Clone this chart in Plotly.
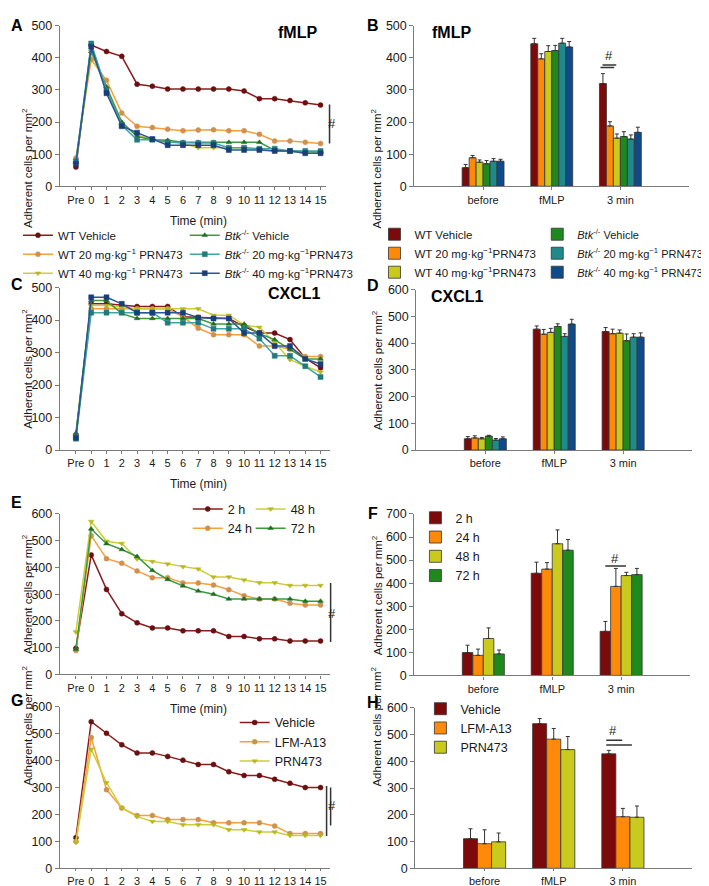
import plotly.graph_objects as go

# -----------------------------------------------------------
# Datos
# -----------------------------------------------------------

tiempos = list(range(-1, 16))
etiquetas_tiempo = ["Pre"] + [str(t) for t in range(16)]
categorias = [0, 1, 2]
etiquetas_cat = ["before", "fMLP", "3 min"]

nombres_lineas = ["WT Vehicle", "WT 20 mg·kg<sup>−1</sup> PRN473", "WT 40 mg·kg<sup>−1</sup> PRN473",
                  "<i>Btk</i><sup>-/-</sup> Vehicle", "<i>Btk</i><sup>-/-</sup> 20 mg·kg<sup>−1</sup>PRN473",
                  "<i>Btk</i><sup>-/-</sup> 40 mg·kg<sup>−1</sup>PRN473"]
nombres_barras = ["WT Vehicle", "WT 20 mg·kg<sup>−1</sup>PRN473", "WT 40 mg·kg<sup>−1</sup>PRN473",
                  "<i>Btk</i><sup>-/-</sup> Vehicle", "<i>Btk</i><sup>-/-</sup> 20 mg·kg<sup>−1</sup> PRN473",
                  "<i>Btk</i><sup>-/-</sup> 40 mg·kg<sup>−1</sup> PRN473"]
nombres_horas = ["2 h", "24 h", "48 h", "72 h"]
nombres_inhib = ["Vehicle", "LFM-A13", "PRN473"]

# A) fMLP, curso temporal
a_wt_veh = [60, 440, 420, 405, 318, 312, 303, 303, 303, 303, 303, 297, 273, 273, 267, 260, 253]
a_wt_20 = [88, 395, 330, 228, 187, 183, 178, 173, 175, 176, 173, 173, 162, 141, 141, 137, 133]
a_wt_40 = [70, 420, 305, 195, 160, 145, 140, 133, 120, 120, 120, 120, 115, 110, 108, 103, 103]
a_btk_veh = [75, 420, 310, 200, 155, 145, 143, 137, 137, 137, 137, 137, 137, 112, 110, 107, 107]
a_btk_20 = [78, 445, 300, 190, 145, 145, 137, 135, 135, 135, 120, 120, 117, 117, 110, 110, 110]
a_btk_40 = [70, 435, 290, 187, 167, 147, 128, 128, 128, 128, 113, 113, 113, 110, 110, 103, 103]

# B) fMLP, barras (before, fMLP, 3 min) + error
b_wt_veh = [58, 444, 320]
b_wt_veh_err = [10, 17, 31]
b_wt_20 = [89, 397, 188]
b_wt_20_err = [7, 16, 13]
b_wt_40 = [75, 420, 150]
b_wt_40_err = [7, 18, 13]
b_btk_veh = [70, 423, 155]
b_btk_veh_err = [10, 16, 15]
b_btk_20 = [78, 446, 147]
b_btk_20_err = [8, 15, 13]
b_btk_40 = [78, 434, 168]
b_btk_40_err = [6, 17, 16]

# C) CXCL1, curso temporal
c_wt_veh = [45, 450, 450, 445, 442, 442, 442, 410, 408, 405, 405, 380, 360, 360, 340, 283, 253]
c_wt_20 = [40, 435, 435, 435, 435, 435, 435, 410, 375, 355, 355, 355, 320, 320, 310, 288, 288]
c_wt_40 = [45, 445, 445, 440, 435, 435, 435, 435, 435, 415, 415, 385, 378, 330, 278, 258, 240]
c_btk_veh = [52, 460, 460, 420, 405, 405, 405, 405, 405, 388, 388, 388, 358, 340, 310, 280, 280]
c_btk_20 = [35, 423, 423, 423, 423, 423, 392, 392, 392, 373, 373, 373, 343, 290, 290, 258, 225]
c_btk_40 = [38, 470, 470, 450, 423, 423, 423, 423, 408, 405, 405, 360, 360, 320, 320, 280, 265]

# D) CXCL1, barras
d_wt_veh = [42, 452, 443]
d_wt_veh_err = [8, 12, 15]
d_wt_20 = [45, 433, 435]
d_wt_20_err = [8, 18, 17]
d_wt_40 = [42, 440, 437]
d_wt_40_err = [5, 15, 12]
d_btk_veh = [52, 462, 409]
d_btk_veh_err = [3, 10, 25]
d_btk_20 = [37, 425, 422]
d_btk_20_err = [6, 10, 13]
d_btk_40 = [42, 471, 422]
d_btk_40_err = [7, 18, 16]

# E) horas, curso temporal
e_2h = [98, 447, 318, 227, 193, 174, 174, 163, 163, 163, 142, 142, 133, 133, 125, 125, 125]
e_24h = [89, 519, 433, 416, 387, 362, 362, 342, 342, 334, 317, 294, 282, 282, 266, 260, 260]
e_48h = [159, 572, 498, 490, 432, 422, 413, 403, 394, 364, 364, 353, 343, 343, 333, 333, 333]
e_72h = [94, 544, 489, 467, 441, 389, 355, 331, 312, 300, 282, 282, 282, 282, 282, 274, 274]

# F) horas, barras
f_2h = [99, 443, 191]
f_2h_err = [32, 48, 43]
f_24h = [87, 461, 386]
f_24h_err = [27, 28, 78]
f_48h = [160, 571, 433]
f_48h_err = [46, 60, 14]
f_72h = [93, 543, 437]
f_72h_err = [17, 46, 27]

# G) inhibidores, curso temporal
g_veh = [114, 545, 502, 459, 429, 429, 416, 402, 386, 386, 359, 345, 345, 331, 316, 300, 300]
g_lfm = [100, 486, 292, 224, 196, 196, 181, 181, 181, 169, 169, 169, 169, 157, 129, 129, 129]
g_prn = [96, 443, 318, 224, 192, 174, 174, 162, 162, 162, 143, 143, 135, 135, 122, 122, 122]

# H) inhibidores, barras
h_veh = [111, 541, 428]
h_veh_err = [37, 19, 13]
h_lfm = [92, 483, 193]
h_lfm_err = [52, 40, 31]
h_prn = [99, 444, 191]
h_prn_err = [33, 49, 42]

# -----------------------------------------------------------
# Estilos
# -----------------------------------------------------------

W, H = 709, 886
FUENTE = "Liberation Sans, Arial, sans-serif"
GRIS = "#7a7a7a"
TEXTO = "#1a1a1a"

col_barras = ["#7d0a0a", "#ff8a0a", "#c9c91e", "#1e8a1e", "#1f8a8a", "#0f4a8a"]
col_lineas = ["#8b1c1c", "#f5a03c", "#cdcd3c", "#3d9a3d", "#3fa5a5", "#2a5698"]
col_marcas = ["#6a1010", "#d09050", "#b8b820", "#236b23", "#237a7a", "#1a3f78"]
simbolos = ["circle", "circle", "triangle-down", "triangle-up", "square", "square"]

# paneles: (x izq, x der, y arriba, y abajo) en pixeles
paneles = {
    1: (52, 318, 11, 174),
    2: (407, 682, 11, 174),
    3: (52, 322, 277, 442),
    4: (409, 685, 279, 442),
    5: (52, 322, 507, 670),
    6: (407, 683, 507, 671),
    7: (52, 322, 703, 867),
    8: (408, 685, 704, 867),
}
rangos_y = {1: 500, 2: 500, 3: 500, 4: 600, 5: 600, 6: 700, 7: 600, 8: 600}

fig = go.Figure()


def sufijo(n):
    return "" if n == 1 else str(n)


def lineas(n, series, nombres, estilos, leyendas):
    """Agrega las curvas temporales al panel n"""
    for serie, nombre, i, ley in zip(series, nombres, estilos, leyendas):
        fig.add_trace(go.Scatter(
            x=tiempos, y=serie, name=nombre, mode="lines+markers",
            line=dict(color=col_lineas[i], width=1.5),
            marker=dict(symbol=simbolos[i], size=5, color=col_marcas[i],
                        line=dict(color=col_marcas[i], width=0.5)),
            xaxis="x" + sufijo(n), yaxis="y" + sufijo(n),
            showlegend=ley is not None, legend=ley or "legend",
        ))


def barras(n, series, errores, nombres, estilos, leyendas):
    """Agrega barras agrupadas con error (solo hacia arriba) al panel n"""
    for serie, err, nombre, i, ley in zip(series, errores, nombres, estilos, leyendas):
        fig.add_trace(go.Bar(
            x=categorias, y=serie, name=nombre,
            marker=dict(color=col_barras[i], line=dict(color="#333333", width=0.8)),
            error_y=dict(type="data", array=err, arrayminus=[0] * len(err), symmetric=False,
                         color="#333333", thickness=1, width=2),
            xaxis="x" + sufijo(n), yaxis="y" + sufijo(n),
            showlegend=ley is not None, legend=ley or "legend",
        ))


# A y C
lineas(1, [a_wt_veh, a_wt_20, a_wt_40, a_btk_veh, a_btk_20, a_btk_40], nombres_lineas,
       range(6), ["legend", "legend", "legend", "legend2", "legend2", "legend2"])
lineas(3, [c_wt_veh, c_wt_20, c_wt_40, c_btk_veh, c_btk_20, c_btk_40], nombres_lineas,
       range(6), [None] * 6)

# B y D
barras(2, [b_wt_veh, b_wt_20, b_wt_40, b_btk_veh, b_btk_20, b_btk_40],
       [b_wt_veh_err, b_wt_20_err, b_wt_40_err, b_btk_veh_err, b_btk_20_err, b_btk_40_err],
       nombres_barras, range(6), ["legend3", "legend3", "legend3", "legend4", "legend4", "legend4"])
barras(4, [d_wt_veh, d_wt_20, d_wt_40, d_btk_veh, d_btk_20, d_btk_40],
       [d_wt_veh_err, d_wt_20_err, d_wt_40_err, d_btk_veh_err, d_btk_20_err, d_btk_40_err],
       nombres_barras, range(6), [None] * 6)

# E y F
lineas(5, [e_2h, e_24h, e_48h, e_72h], nombres_horas, [0, 1, 2, 3],
       ["legend5", "legend5", "legend6", "legend6"])
barras(6, [f_2h, f_24h, f_48h, f_72h], [f_2h_err, f_24h_err, f_48h_err, f_72h_err],
       nombres_horas, [0, 1, 2, 3], ["legend7"] * 4)

# G y H
lineas(7, [g_veh, g_lfm, g_prn], nombres_inhib, [0, 1, 2], ["legend8"] * 3)
barras(8, [h_veh, h_lfm, h_prn], [h_veh_err, h_lfm_err, h_prn_err],
       nombres_inhib, [0, 1, 2], ["legend9"] * 3)

# -----------------------------------------------------------
# Ejes
# -----------------------------------------------------------

layout = {}
for n, (x0, x1, y0, y1) in paneles.items():
    es_linea = n % 2 == 1
    if es_linea:
        xr = [-1 - 16 / 15.3, 15 + (x1 - 313) / 15.3]
        xt = dict(tickvals=tiempos, ticktext=etiquetas_tiempo, tickfont=dict(size=11, color=TEXTO))
    else:
        xr = [-1, 3]
        xt = dict(tickvals=categorias, ticktext=etiquetas_cat, tickfont=dict(size=11, color=TEXTO))
    layout["xaxis" + sufijo(n)] = dict(
        domain=[x0 / W, x1 / W], range=xr, anchor="y" + sufijo(n),
        showline=True, linecolor=GRIS, linewidth=1.3, ticks="outside",
        ticklen=2 if n >= 7 else 3,
        tickcolor=GRIS, showgrid=False, zeroline=False, fixedrange=True, **xt)
    layout["yaxis" + sufijo(n)] = dict(
        domain=[1 - y1 / H, 1 - y0 / H], range=[0, rangos_y[n]], dtick=100,
        anchor="x" + sufijo(n), showline=True, linecolor=GRIS, linewidth=1.3,
        ticks="outside", ticklen=4, tickcolor=GRIS, showgrid=False, zeroline=False,
        tickfont=dict(size=12.5, color=TEXTO), fixedrange=True)


def leyenda(px, py, size):
    # px: inicio del texto menos 40; py: borde superior de la leyenda
    return dict(x=px / W, y=1 - py / H, xanchor="left", yanchor="top",
                bgcolor="rgba(0,0,0,0)", font=dict(size=size, color=TEXTO),
                tracegroupgap=0, itemwidth=30)


layout["legend"] = leyenda(10, 209, 11.5)
layout["legend2"] = leyenda(177, 209, 11.5)
layout["legend3"] = leyenda(367, 208, 11.5)
layout["legend4"] = leyenda(530, 208, 11)
layout["legend5"] = leyenda(180, 487, 12.5)
layout["legend6"] = leyenda(243, 487, 12.5)
layout["legend7"] = leyenda(408, 496, 12.5)
layout["legend8"] = leyenda(227, 704, 12.5)
layout["legend9"] = leyenda(413, 690, 12.5)

# -----------------------------------------------------------
# Textos: letras, titulos, ejes, significancia
# -----------------------------------------------------------

anot = []
formas = []


def texto(px, py, s, size=12, bold=False):
    if bold:
        s = "<b>" + s + "</b>"
    anot.append(dict(x=px / W, y=1 - py / H, xref="paper", yref="paper", text=s,
                     showarrow=False, xanchor="center", yanchor="middle",
                     font=dict(size=size, color="#000000" if bold else TEXTO, family=FUENTE)))


for letra, (px, py) in zip("ABCDEFGH", [(9, 11), (366, 11), (9, 274), (366, 275),
                                       (9, 495), (366, 506), (9, 696), (366, 699)]):
    texto(px, py, letra, size=16, bold=True)

texto(290, 18, "fMLP", size=16, bold=True)
texto(444, 18, "fMLP", size=16, bold=True)
texto(287, 283, "CXCL1", size=16, bold=True)
texto(450, 286, "CXCL1", size=16, bold=True)

for py in (209, 477, 705):
    texto(191, py, "Time (min)", size=12)

for n, (x0, x1, y0, y1) in paneles.items():
    cx = 10 if x0 < 200 else 369
    anot.append(dict(x=cx / W, y=1 - (y0 + y1) / 2 / H, xref="paper", yref="paper",
                     text="Adherent cells per mm<sup>2</sup>", textangle=-90, showarrow=False,
                     font=dict(size=11.5, color=TEXTO, family=FUENTE)))


def raya(n, x0, x1, y0, y1, dominio=False):
    xr = ("x" + sufijo(n)) + (" domain" if dominio else "")
    formas.append(dict(type="line", xref=xr, yref="y" + sufijo(n), x0=x0, x1=x1, y0=y0, y1=y1,
                       line=dict(color="#333333", width=1.5)))


def almohadilla(n, x, y, dominio=False):
    anot.append(dict(x=x, y=y, xref=("x" + sufijo(n)) + (" domain" if dominio else ""),
                     yref="y" + sufijo(n), text="#", showarrow=False,
                     font=dict(size=13, color=TEXTO, family=FUENTE)))


# A
raya(1, 1.015, 1.015, 133, 255, True)
almohadilla(1, 1.045, 196, True)
# B
raya(2, 1.74, 1.94, 378, 378)
raya(2, 1.71, 1.91, 370, 370)
almohadilla(2, 1.83, 408)
# E
raya(5, 1.004, 1.004, 121, 342, True)
almohadilla(5, 1.03, 228, True)
# F
raya(6, 1.77, 2.07, 474, 474)
almohadilla(6, 1.91, 505)
# G
raya(7, 0.989, 0.989, 120, 306, True)
raya(7, 1.004, 1.004, 159, 300, True)
almohadilla(7, 1.03, 233, True)
# H
raya(8, 1.76, 1.99, 479, 479)
raya(8, 1.76, 2.13, 461, 461)
almohadilla(8, 1.86, 516)

fig.update_layout(
    width=W, height=H, margin=dict(l=0, r=0, t=0, b=0),
    paper_bgcolor="white", plot_bgcolor="white",
    font=dict(family=FUENTE, color=TEXTO),
    barmode="group", bargap=0.39, bargroupgap=0,
    annotations=anot, shapes=formas,
    **layout,
)

fig.write_html("out.html")
